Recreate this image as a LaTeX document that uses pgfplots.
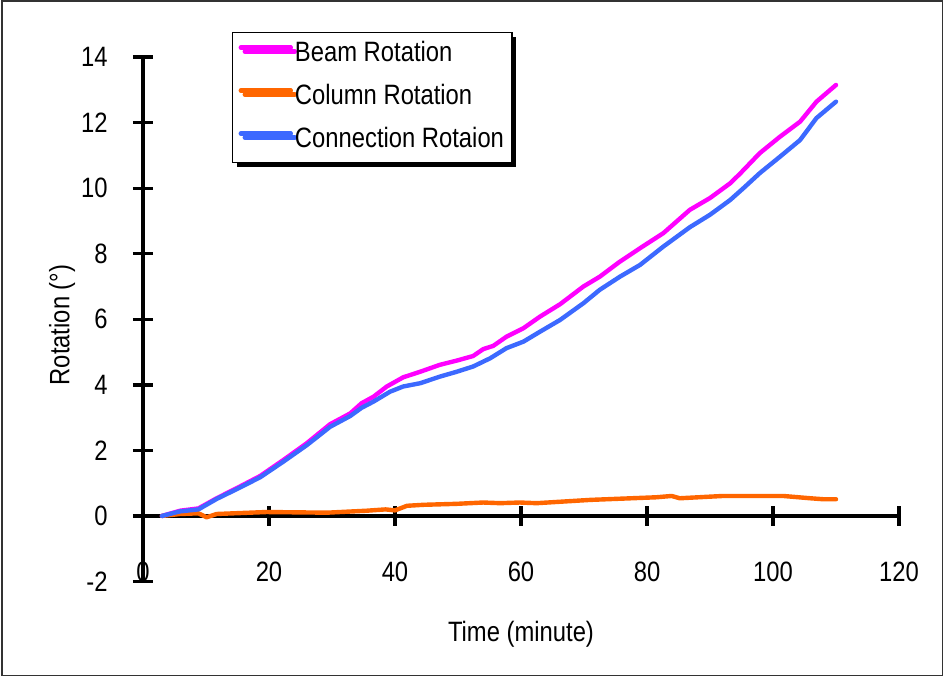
\documentclass[border=0pt]{standalone}
\usepackage{pgfplots}
\pgfplotsset{compat=1.18}
\usepackage{fontspec}
\setmainfont{Liberation Sans}[FakeStretch=0.85]
\usetikzlibrary{shadows}
\definecolor{beam}{RGB}{255,0,255}
\definecolor{column}{RGB}{255,102,0}
\definecolor{conn}{RGB}{60,105,255}
\newcommand{\lblfont}{\fontsize{14}{16}\selectfont}
\begin{document}
\begin{tikzpicture}
\useasboundingbox (0,0) rectangle (474pt,338.5pt);
\draw[line width=0.9pt, black!80] (1pt,0.8pt) rectangle (471.2pt,338pt);
\begin{axis}[
  at={(71.5pt,47.75pt)},
  anchor=south west,
  scale only axis,
  width=378pt, height=262.2pt,
  xmin=0, xmax=120, ymin=-2, ymax=14,
  enlargelimits=false,
  axis lines=middle,
  axis line style={-, line width=1.7pt},
  hide obscured x ticks=false,
  hide obscured y ticks=false,
  xtick={0,20,...,120},
  ytick={-2,0,...,14},
  tick align=center,
  major tick length=10pt,
  tick style={line width=1.7pt, black},
  /pgf/number format/assume math mode=true,
  tick label style={font=\lblfont},
  xticklabel style={anchor=center, inner sep=0pt, yshift=-23pt},
  yticklabel style={anchor=east, inner sep=0pt, xshift=-12.5pt},
  xlabel={Time (minute)},
  ylabel={Rotation (°)},
  label style={font=\lblfont},
  xlabel style={at={(rel axis cs:0.5,-0.1)}, anchor=center},
  ylabel style={at={(rel axis cs:-0.107,0.489)}, anchor=center, rotate=90},
  legend cell align=left,
  legend style={at={(rel axis cs:0.1177,1.048)}, anchor=north west,
    draw=black, line width=0.6pt, fill=white,
    drop shadow={shadow xshift=2pt, shadow yshift=-2pt, fill=black, opacity=1},
    font=\lblfont, inner xsep=3pt, inner ysep=4.5pt, row sep=8.5pt,
    nodes={inner ysep=0pt, inner xsep=1pt, text height=10pt, text depth=3pt}},
  legend image code/.code={\path (0pt,3.5pt) -- (25pt,3.5pt);
    \draw[#1, line cap=round] (2pt,3.5pt) -- (21pt,3.5pt);},
  every axis plot/.append style={line width=2.2pt, line join=round, line cap=round},
]
\addplot[beam] coordinates {
(3,0) (5.9,0.16) (8.8,0.23) (11.7,0.54) (14.9,0.85) (18.6,1.22) (22.3,1.71)
(26,2.22) (29.7,2.80) (32.9,3.13) (34.7,3.44) (36.6,3.64) (38.7,3.95) (41.3,4.23)
(44,4.40) (47.1,4.61) (49.8,4.74) (52.4,4.88) (54,5.09) (55.6,5.19) (57.7,5.47)
(60.4,5.73) (63,6.08) (66.2,6.46) (69.9,7.00) (72.5,7.30) (75.7,7.76) (78.9,8.17)
(82.6,8.63) (86.8,9.34) (90,9.70) (93.2,10.15) (94.8,10.45) (97.9,11.07)
(101.1,11.57) (104.3,12.03) (106.9,12.64) (110,13.15)};
\addlegendentry{Beam Rotation}
\addplot[column] coordinates {
(3,0) (5.9,0.06) (8.8,0.08) (10.1,-0.04) (11.7,0.06) (19.6,0.12) (29.2,0.10)
(35.5,0.16) (38.5,0.20) (40,0.17) (41.9,0.31) (44.5,0.34) (49.8,0.37) (54,0.41)
(56.7,0.39) (59.8,0.41) (62.5,0.39) (71,0.49) (81.5,0.57) (83.9,0.61) (85.2,0.54)
(92.1,0.61) (101.6,0.61) (105.9,0.54) (108,0.51) (110,0.51)};
\addlegendentry{Column Rotation}
\addplot[conn] coordinates {
(3,0) (5.9,0.14) (8.8,0.2) (11.7,0.52) (14.9,0.82) (18.6,1.18) (22.3,1.66)
(26,2.16) (29.7,2.72) (32.9,3.05) (34.7,3.3) (36.6,3.49) (39.2,3.79) (41.3,3.95)
(44,4.05) (47.1,4.25) (49.8,4.40) (52.4,4.56) (55.1,4.81) (57.7,5.12) (60.4,5.32)
(63,5.62) (66.2,5.98) (69.9,6.49) (72.5,6.90) (75.7,7.30) (78.9,7.66) (82.6,8.22)
(86.8,8.81) (90,9.19) (93.2,9.64) (95.3,10.0) (97.9,10.46) (101.1,10.96)
(104.3,11.47) (106.9,12.14) (110,12.64)};
\addlegendentry{Connection Rotaion}
\end{axis}
\end{tikzpicture}
\end{document}
